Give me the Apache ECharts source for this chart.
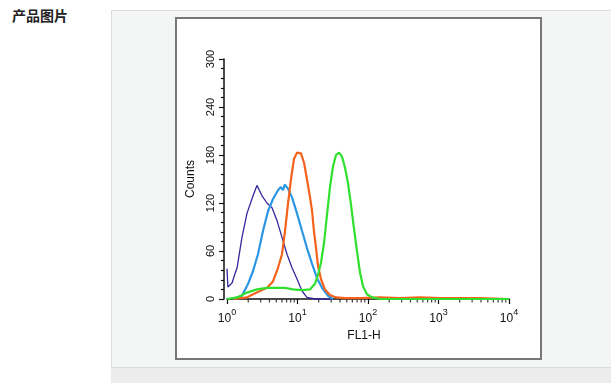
<!DOCTYPE html>
<html><head><meta charset="utf-8">
<script src="https://cdn.jsdelivr.net/npm/echarts@6/dist/echarts.min.js"></script>
<style>
html,body{margin:0;padding:0;background:#fff;width:611px;height:383px;overflow:hidden;}
#title{position:absolute;left:12px;top:8px;font-size:14px;line-height:14px;font-weight:bold;font-family:"Noto Sans CJK SC";color:#222;}
#panel{position:absolute;left:111px;top:10px;width:500px;height:358px;background:#f4f5f5;border:1px solid #dcdcdc;border-right:none;box-sizing:border-box;}
#foot{position:absolute;left:111px;top:368px;width:500px;height:15px;background:#ececec;}
#frame{position:absolute;left:175px;top:17px;width:367px;height:343px;background:#fff;border:2px solid #777;box-sizing:border-box;}
#chart{position:absolute;left:177px;top:19px;width:363px;height:339px;}
</style></head>
<body>
<div id="title">产品图片</div>
<div id="panel"></div>
<div id="foot"></div>
<div id="frame"></div>
<div id="chart"></div>
<script>
// ---- data (FL1-H value, counts) ----
const navyX = [1.00, 1.03, 1.08, 1.18, 1.28, 1.39, 1.63, 1.92, 2.34, 2.66, 3.14, 3.69, 4.35, 5.12, 6.03, 7.10, 8.36, 9.84, 11.6, 13.6, 17.7, 30];
const navyY = [38, 15, 14, 20, 30, 39, 77, 107, 129, 142, 129, 120, 114, 98, 77, 56, 39, 25, 10, 2, 0, 0];

const blueX = [1.22, 1.63, 1.99, 2.34, 2.75, 3.24, 3.82, 4.49, 5.29, 5.8, 6.23, 6.6, 7.33, 8.36, 9.84, 11.6, 13.6, 16.1, 18.9, 22.3, 27.1, 31.9];
const blueY = [0, 4, 19, 35, 56, 85, 110, 125, 136, 140, 136, 143, 138, 127, 107, 85, 64, 44, 26, 14, 4, 0];

const orangeX = [1.25, 1.92, 2.34, 2.94, 3.69, 4.49, 5.29, 6.03, 6.65, 7.33, 8.09, 8.92, 9.84, 11.2, 12.4, 13.6, 15.0, 16.1, 17.1, 18.3, 19.5, 21.5, 24.5, 28.9, 35.2, 47.2, 77, 148, 284, 547, 1050, 2018, 3880, 9680];
const orangeY = [0, 2, 6, 10, 14, 22, 39, 56, 85, 119, 150, 175, 183, 182, 170, 150, 128, 110, 85, 64, 42, 25, 12, 5, 2, 1, 1, 2, 1, 2, 1, 1, 1, 0];

const greenX = [1.0, 1.39, 1.92, 2.66, 3.69, 5.12, 6.65, 8.63, 11.6, 15.0, 17.7, 19.5, 21.5, 23.8, 26.2, 28.9, 31.9, 35.2, 38.8, 42.8, 47.2, 52.0, 57.4, 63.3, 69.8, 77.0, 85.0, 96.8, 114, 148, 10000];
const greenY = [0, 2, 8, 12, 14, 14, 14, 12, 11, 12, 19, 30, 45, 70, 105, 140, 166, 180, 183, 178, 164, 145, 118, 88, 60, 33, 16, 6, 2, 0, 0];

// axis ticks
const xMajor = [1, 10, 100, 1000, 10000];
const xMinorMult = [2, 3, 4, 5, 6, 7, 8, 9];
const yTickStep = 60;

const pair = (xs, ys) => xs.map((x, i) => [x, ys[i]]);
const minorTicks = [];
xMajor.slice(0, -1).forEach(d => xMinorMult.forEach(m => minorTicks.push([m * d, 0])));

const FONT = 'Liberation Sans';
const INK = '#111';
const chart = echarts.init(document.getElementById('chart'));
const lineS = (name, data, color, width) => ({
  name, type: 'line', data, showSymbol: false, symbol: 'none',
  lineStyle: { color, width }, itemStyle: { color }, clip: false
});
chart.setOption({
  animation: false,
  grid: { left: 50, top: 40, width: 282, height: 240 },
  xAxis: {
    type: 'log', logBase: 10, min: 1, max: 10000,
    name: 'FL1-H', nameLocation: 'middle', nameGap: 26,
    nameTextStyle: { fontFamily: FONT, fontSize: 12, color: INK, padding: [0, 8, 0, 0] },
    axisLine: { lineStyle: { color: INK, width: 1.5 } },
    axisTick: { length: 5, lineStyle: { color: INK, width: 1.2 } },
    splitLine: { show: false },
    axisLabel: {
      margin: 9,
      formatter: v => '{b|10}{s|' + Math.round(Math.log10(v)) + '}',
      rich: {
        b: { fontFamily: FONT, fontSize: 12, color: INK, padding: [5, 0, 0, 0] },
        s: { fontFamily: FONT, fontSize: 9, color: INK, verticalAlign: 'top' }
      }
    }
  },
  yAxis: {
    type: 'value', min: 0, max: 300, interval: yTickStep, offset: 3,
    name: 'Counts', nameLocation: 'middle', nameGap: 22,
    nameTextStyle: { fontFamily: FONT, fontSize: 12, color: INK },
    axisLine: { show: true, lineStyle: { color: INK, width: 1.5 } },
    axisTick: { show: true, length: 5, lineStyle: { color: INK, width: 1.2 } },
    minorTick: { show: true, splitNumber: 5, length: 3, lineStyle: { color: INK, width: 1.2 } },
    splitLine: { show: false },
    axisLabel: { rotate: 90, margin: 8, fontFamily: FONT, fontSize: 11, color: INK }
  },
  series: [
    {
      type: 'scatter', data: minorTicks, symbol: 'rect', symbolSize: [1.2, 3],
      symbolOffset: [0, 2], itemStyle: { color: INK }, clip: false, z: 1, silent: true
    },
    lineS('navy', pair(navyX, navyY), '#33299c', 1.3),
    lineS('blue', pair(blueX, blueY), '#2b96e4', 2.2),
    lineS('orange', pair(orangeX, orangeY), '#f4621c', 2.2),
    lineS('green', pair(greenX, greenY), '#2fe02f', 2.2)
  ]
});
</script>
</body></html>
